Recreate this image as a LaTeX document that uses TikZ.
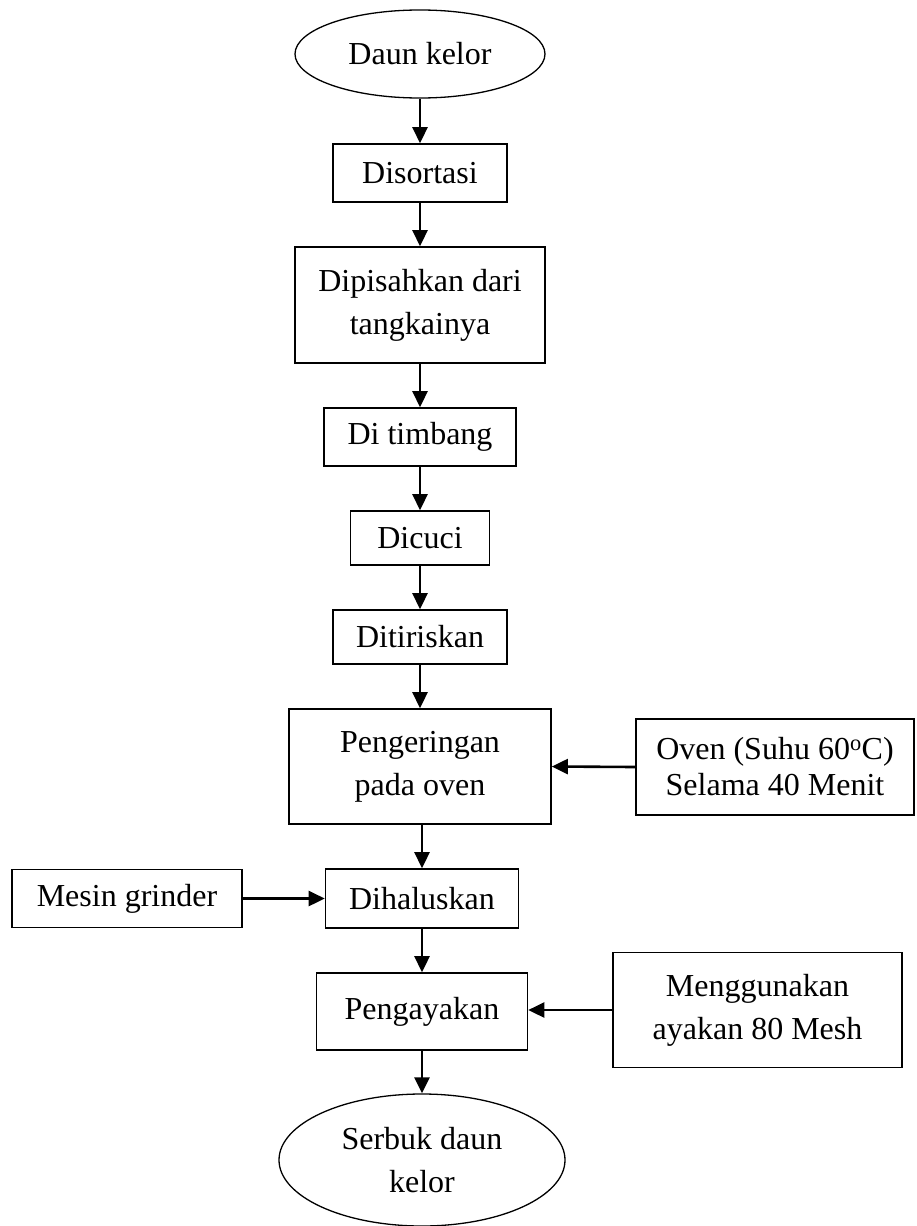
\documentclass[tikz,border=0pt]{standalone}
\usepackage{fontspec}
\setmainfont{Liberation Serif}
\usetikzlibrary{shapes.geometric,arrows.meta}
\tikzset{
  box/.style={draw,line width=1.6pt,inner sep=0pt,align=center,font=\fontsize{32}{43}\selectfont},
  oval/.style={draw,ellipse,line width=1.3pt,inner sep=0pt,align=center,font=\fontsize{32}{43}\selectfont},
  flow/.style={line width=2.6pt,-{Triangle[length=16pt,width=15pt]}}
}
\begin{document}
\begin{tikzpicture}[x=1pt,y=-1pt]
\useasboundingbox (0,0) rectangle (916,1226);
\node[oval,minimum width=250,minimum height=88] (e1) at (420,54) {Daun kelor};
\node[box,minimum width=174,minimum height=58] (n1) at (420,173) {Disortasi};
\node[box,minimum width=250,minimum height=116] (n2) at (420,305) {Dipisahkan dari\\tangkainya};
\node[box,minimum width=192,minimum height=58] (n3) at (420,437) {Di timbang};
\node[box,minimum width=139,minimum height=54] (n4) at (420,538) {Dicuci};
\node[box,minimum width=174,minimum height=54] (n5) at (420,637) {Ditiriskan};
\node[box,minimum width=262,minimum height=115] (n6) at (420,766.5) {Pengeringan\\pada oven};
\node[box,minimum width=278,minimum height=96,font=\fontsize{32}{36}\selectfont] (ov) at (775,767) {Oven (Suhu 60\textsuperscript{o}C)\\Selama 40 Menit};
\node[box,minimum width=193,minimum height=59] (n7) at (422,898.5) {Dihaluskan};
\node[box,minimum width=230,minimum height=58] (mg) at (127,898.5) {Mesin grinder};
\node[box,minimum width=211,minimum height=77] (n8) at (422,1011.5) {Pengayakan};
\node[box,minimum width=289,minimum height=115] (mk) at (757.5,1010) {Menggunakan\\ayakan 80 Mesh};
\node[oval,minimum width=286,minimum height=132] (e2) at (422,1160) {Serbuk daun\\kelor};
\draw[flow] (e1.south) -- (n1.north);
\draw[flow] (n1.south) -- (n2.north);
\draw[flow] (n2.south) -- (n3.north);
\draw[flow] (n3.south) -- (n4.north);
\draw[flow] (n4.south) -- (n5.north);
\draw[flow] (n5.south) -- (n6.north);
\draw[flow] (n6.south -| n7.north) -- (n7.north);
\draw[flow] (n7.south) -- (n8.north);
\draw[flow] (n8.south) -- (e2.north);
\draw[flow] (ov.west) -- (n6.east);
\draw[flow] (mg.east) -- (n7.west);
\draw[flow] (mk.west) -- (mk.west -| n8.east);
\end{tikzpicture}
\end{document}
